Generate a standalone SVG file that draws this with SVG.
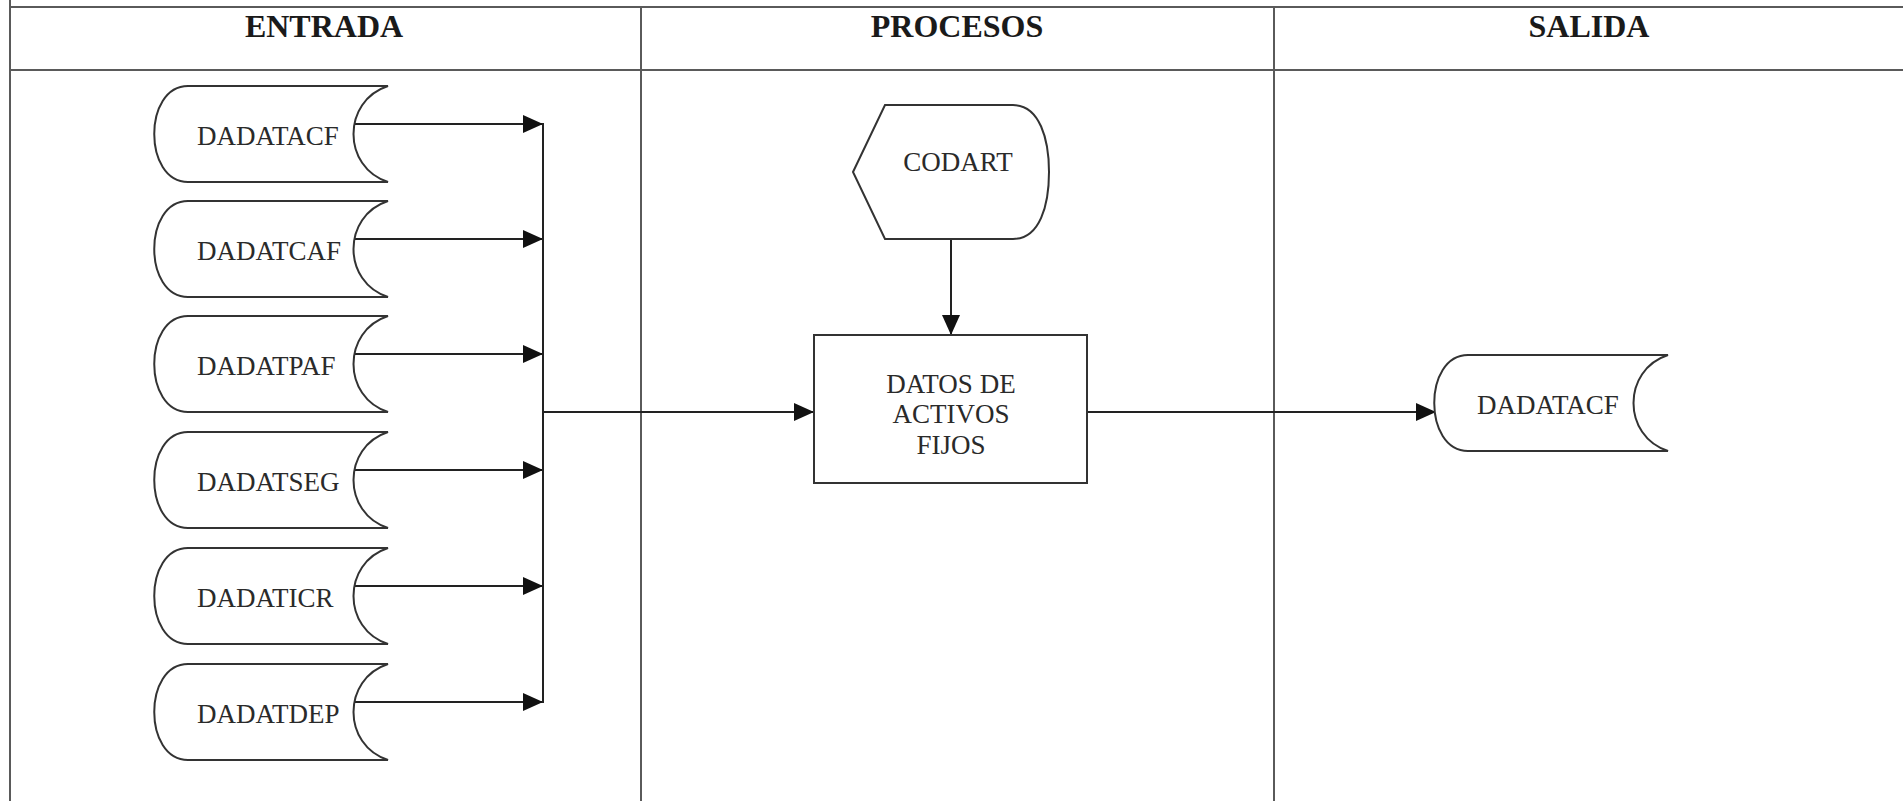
<svg xmlns="http://www.w3.org/2000/svg" width="1903" height="801" viewBox="0 0 1903 801">
<style>
.grid{stroke:#5a5a5a;stroke-width:2;fill:none}
.shape{stroke:#333;stroke-width:2;fill:#fff}
.conn{stroke:#222;stroke-width:2;fill:none}
.hdr{font-family:"Liberation Serif","Times New Roman",serif;font-weight:bold;font-size:32px;fill:#1a1a1a;text-anchor:middle}
.lbl{font-family:"Liberation Serif","Times New Roman",serif;font-size:27px;fill:#2a2a2a}
.mid{text-anchor:middle}
</style>
<defs>
<marker id="ah" markerUnits="userSpaceOnUse" markerWidth="22" markerHeight="20" viewBox="0 0 22 20" refX="21" refY="10" orient="auto">
<path d="M1,1 L21,10 L1,19 Z" fill="#111"/>
</marker>
<path id="doc" d="M188,86 L388,86 C342,101 342,167 388,182 L188,182 C143,182 143,86 188,86 Z"/>
</defs>
<rect width="1903" height="801" fill="#fff"/>
<g id="grid" class="grid">
<line x1="10" y1="7" x2="1903" y2="7"/>
<line x1="10" y1="70" x2="1903" y2="70"/>
<line x1="10" y1="0" x2="10" y2="801"/>
<line x1="641" y1="7" x2="641" y2="801"/>
<line x1="1274" y1="7" x2="1274" y2="801"/>
</g>
<g id="headers">
<text class="hdr" x="324" y="37">ENTRADA</text>
<text class="hdr" x="957" y="37">PROCESOS</text>
<text class="hdr" x="1589" y="37">SALIDA</text>
</g>
<g id="connectors" class="conn">
<line x1="352" y1="124" x2="543" y2="124" marker-end="url(#ah)"/>
<line x1="352" y1="239" x2="543" y2="239" marker-end="url(#ah)"/>
<line x1="352" y1="354" x2="543" y2="354" marker-end="url(#ah)"/>
<line x1="352" y1="470" x2="543" y2="470" marker-end="url(#ah)"/>
<line x1="352" y1="586" x2="543" y2="586" marker-end="url(#ah)"/>
<line x1="352" y1="702" x2="543" y2="702" marker-end="url(#ah)"/>
<line x1="543" y1="123" x2="543" y2="703"/>
<line x1="543" y1="412" x2="814" y2="412" marker-end="url(#ah)"/>
<line x1="951" y1="239" x2="951" y2="335" marker-end="url(#ah)"/>
<line x1="1087" y1="412" x2="1436" y2="412" marker-end="url(#ah)"/>
</g>
<g id="in1"><use href="#doc" class="shape" transform="translate(0,0)"/><text class="lbl" x="197" y="145">DADATACF</text></g>
<g id="in2"><use href="#doc" class="shape" transform="translate(0,115)"/><text class="lbl" x="197" y="260">DADATCAF</text></g>
<g id="in3"><use href="#doc" class="shape" transform="translate(0,230)"/><text class="lbl" x="197" y="375">DADATPAF</text></g>
<g id="in4"><use href="#doc" class="shape" transform="translate(0,346)"/><text class="lbl" x="197" y="491">DADATSEG</text></g>
<g id="in5"><use href="#doc" class="shape" transform="translate(0,462)"/><text class="lbl" x="197" y="607">DADATICR</text></g>
<g id="in6"><use href="#doc" class="shape" transform="translate(0,578)"/><text class="lbl" x="197" y="723">DADATDEP</text></g>
<g id="codart">
<path class="shape" d="M853,172 L885,105 L1013,105 C1040,105 1049,140 1049,172 C1049,205 1040,239 1013,239 L885,239 Z"/>
<text class="lbl mid" x="958" y="171">CODART</text>
</g>
<g id="proceso">
<rect class="shape" x="814" y="335" width="273" height="148"/>
<text class="lbl mid" x="951" y="393">DATOS DE</text>
<text class="lbl mid" x="951" y="423">ACTIVOS</text>
<text class="lbl mid" x="951" y="454">FIJOS</text>
</g>
<g id="out1"><use href="#doc" class="shape" transform="translate(1280,269)"/><text class="lbl" x="1477" y="414">DADATACF</text></g>
</svg>
